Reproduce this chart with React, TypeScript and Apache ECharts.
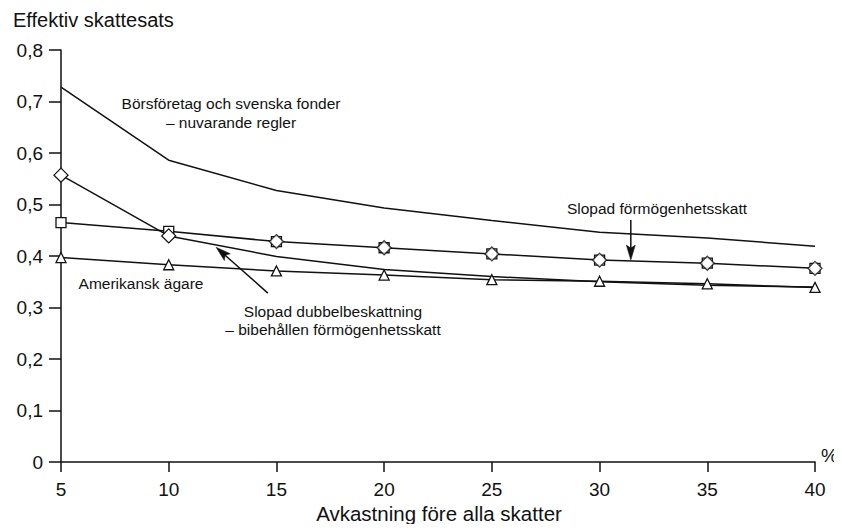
import React, { useEffect, useRef } from "react";
import * as echarts from "echarts";

const returns = [5, 10, 15, 20, 25, 30, 35, 40];
const borsforetag = [0.728, 0.586, 0.527, 0.493, 0.469, 0.446, 0.435, 0.419];
const slopadFormogenhet = [0.465, 0.448, 0.428, 0.416, 0.404, 0.392, 0.386, 0.376];
const slopadDubbel = [0.557, 0.439, 0.399, 0.374, 0.360, 0.350, 0.343, 0.340];
const amerikansk = [0.397, 0.383, 0.371, 0.363, 0.354, 0.351, 0.346, 0.339];
const dubbelMarkerCount = 2;
const yTicks = [0, 0.1, 0.2, 0.3, 0.4, 0.5, 0.6, 0.7, 0.8];

// annotation arrows in data coordinates: [from, to]
const arrowFormogenhet = [[31.45, 0.47], [31.45, 0.392]];
const arrowDubbel = [[14.6, 0.328], [12.2, 0.417]];

const FONT = "Liberation Sans, Arial, Helvetica, sans-serif";

export default function App() {
  const ref = useRef<HTMLDivElement>(null);
  useEffect(() => {
    if (!ref.current) return;
    const chart = echarts.init(ref.current, undefined, { renderer: "svg" });
    const pair = (arr: number[]) => returns.map((x, i) => [x, arr[i]]);
    const black = "#111";
    const textEls: any[] = [
      {
        type: "text",
        left: 13,
        top: 10,
        style: { text: "Effektiv skattesats", fill: black, font: `20px ${FONT}` },
      },
      {
        type: "text",
        x: 231,
        y: 113,
        style: {
          text: "Börsföretag och svenska fonder\n– nuvarande regler",
          fill: black,
          font: `15.5px ${FONT}`,
          align: "center",
          verticalAlign: "middle",
          lineHeight: 19,
        },
      },
      {
        type: "text",
        x: 657,
        y: 208,
        style: {
          text: "Slopad förmögenhetsskatt",
          fill: black,
          font: `15.5px ${FONT}`,
          align: "center",
          verticalAlign: "middle",
        },
      },
      {
        type: "text",
        x: 141,
        y: 283,
        style: {
          text: "Amerikansk ägare",
          fill: black,
          font: `15.5px ${FONT}`,
          align: "center",
          verticalAlign: "middle",
        },
      },
      {
        type: "text",
        x: 333,
        y: 320,
        style: {
          text: "Slopad dubbelbeskattning\n– bibehållen förmögenhetsskatt",
          fill: black,
          font: `15.5px ${FONT}`,
          align: "center",
          verticalAlign: "middle",
          lineHeight: 18,
        },
      },
      {
        type: "text",
        x: 821,
        y: 455,
        style: { text: "%", fill: black, font: `19px ${FONT}`, verticalAlign: "middle" },
      },
      {
        type: "text",
        x: 439,
        y: 513,
        style: {
          text: "Avkastning före alla skatter",
          fill: black,
          font: `20.5px ${FONT}`,
          align: "center",
          verticalAlign: "middle",
        },
      },
    ];
    const option: any = {
      animation: false,
      backgroundColor: "#fff",
      grid: { left: 61, right: 27, top: 50, bottom: 70 },
      xAxis: {
        type: "value",
        min: 5,
        max: 40,
        interval: 5,
        axisLine: { show: true, lineStyle: { color: black, width: 1.5 } },
        axisTick: { show: true, length: 10, lineStyle: { color: black, width: 1.5 } },
        axisLabel: { color: black, fontSize: 19, fontFamily: FONT, margin: 18 },
        splitLine: { show: false },
      },
      yAxis: {
        type: "value",
        min: 0,
        max: 0.8,
        interval: 0.1,
        axisLine: { show: true, lineStyle: { color: black, width: 1.5 } },
        axisTick: { show: true, length: 12, lineStyle: { color: black, width: 1.5 } },
        axisLabel: {
          color: black,
          fontSize: 19,
          fontFamily: FONT,
          margin: 18,
          formatter: (v: number) => {
            const t = yTicks.find((k) => Math.abs(k - v) < 1e-6);
            const val = t === undefined ? v : t;
            return val === 0 ? "0" : val.toFixed(1).replace(".", ",");
          },
        },
        splitLine: { show: false },
      },
      series: [
        {
          type: "line",
          name: "Börsföretag och svenska fonder – nuvarande regler",
          data: pair(borsforetag),
          symbol: "none",
          lineStyle: { color: black, width: 1.5 },
        },
        {
          type: "line",
          name: "Amerikansk ägare",
          data: pair(amerikansk),
          symbol: "triangle",
          symbolSize: 10,
          lineStyle: { color: black, width: 1.5 },
          itemStyle: { color: "#fff", borderColor: black, borderWidth: 1.3 },
        },
        {
          type: "line",
          name: "Slopad dubbelbeskattning – bibehållen förmögenhetsskatt",
          data: returns.map((x, i) =>
            i < dubbelMarkerCount
              ? { value: [x, slopadDubbel[i]] }
              : { value: [x, slopadDubbel[i]], symbol: "none" }
          ),
          symbol: "diamond",
          symbolSize: 14,
          showAllSymbol: true,
          lineStyle: { color: black, width: 1.5 },
          itemStyle: { color: "#fff", borderColor: black, borderWidth: 1.3 },
          z: 3,
        },
        {
          type: "line",
          name: "Slopad förmögenhetsskatt",
          data: pair(slopadFormogenhet),
          symbol: "rect",
          symbolSize: 10,
          lineStyle: { color: black, width: 1.5 },
          itemStyle: { color: "#fff", borderColor: black, borderWidth: 1.3 },
          z: 2,
        },
        {
          type: "scatter",
          name: "Slopad förmögenhetsskatt (diamonds)",
          data: pair(slopadFormogenhet).slice(2),
          symbol: "diamond",
          symbolSize: 14,
          itemStyle: { color: "#fff", borderColor: black, borderWidth: 1.3 },
          z: 4,
        },
      ],
      graphic: textEls,
    };
    chart.setOption(option);

    const arrowEls: any[] = [];
    [arrowFormogenhet, arrowDubbel].forEach((arr) => {
      const p0 = chart.convertToPixel({ gridIndex: 0 }, arr[0]) as number[];
      const p1 = chart.convertToPixel({ gridIndex: 0 }, arr[1]) as number[];
      const dx = p1[0] - p0[0];
      const dy = p1[1] - p0[1];
      const len = Math.sqrt(dx * dx + dy * dy);
      const ux = dx / len;
      const uy = dy / len;
      const headLen = 15;
      const headW = 4.5;
      const bx = p1[0] - ux * headLen;
      const by = p1[1] - uy * headLen;
      arrowEls.push({
        type: "line",
        shape: { x1: p0[0], y1: p0[1], x2: bx + ux * 3, y2: by + uy * 3 },
        style: { stroke: black, lineWidth: 1.5 },
        z: 10,
      });
      arrowEls.push({
        type: "polygon",
        shape: {
          points: [
            [p1[0], p1[1]],
            [bx - uy * headW, by + ux * headW],
            [bx + ux * 3, by + uy * 3],
            [bx + uy * headW, by - ux * headW],
          ],
        },
        style: { fill: black, stroke: black, lineWidth: 0.5 },
        z: 10,
      });
    });
    chart.setOption({ graphic: textEls.concat(arrowEls) });
    return () => chart.dispose();
  }, []);
  return <div ref={ref} style={{ width: 842, height: 532, margin: -8 }} />;
}
